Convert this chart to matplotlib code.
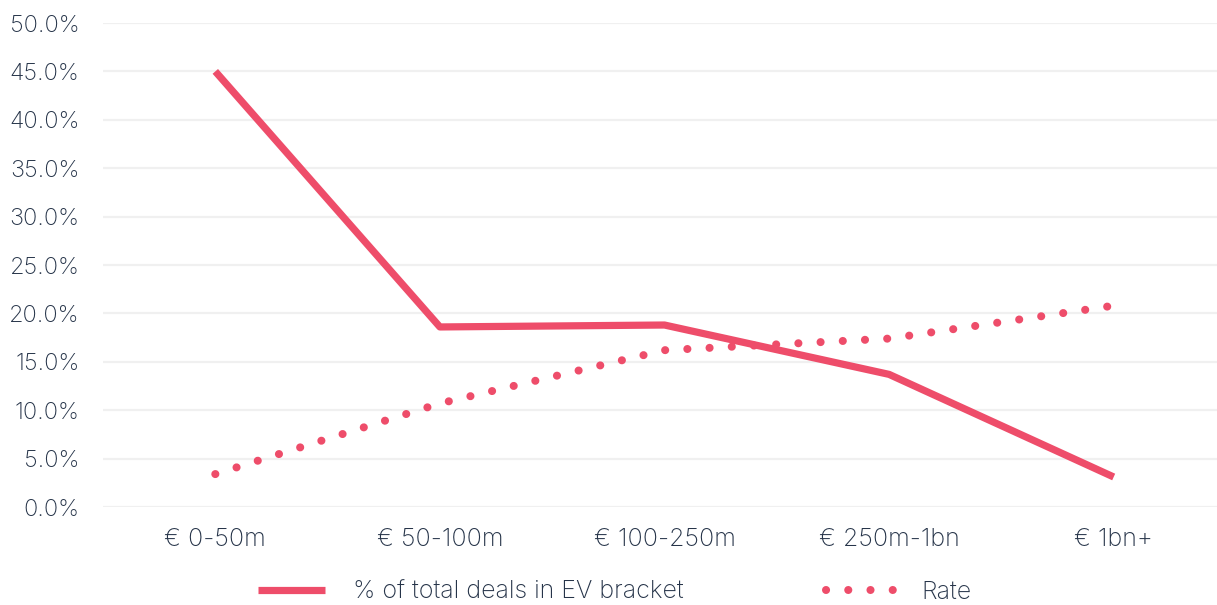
import matplotlib
matplotlib.use("Agg")
import matplotlib.pyplot as plt
from matplotlib.ticker import FuncFormatter

plt.rcParams['font.family'] = ['Inter', 'DejaVu Sans']
plt.rcParams['font.weight'] = 'light'

categories = ['€ 0-50m', '€ 50-100m', '€ 100-250m', '€ 250m-1bn', '€ 1bn+']
share_of_deals = [45.0, 18.6, 18.8, 13.7, 3.1]
rate = [3.4, 10.7, 16.2, 17.4, 20.8]

red = '#ee4d6a'
text_color = '#263449'

fig = plt.figure(figsize=(12.17, 6.05), dpi=100)
ax = fig.add_axes([103 / 1217, 98 / 605, 1 - 103 / 1217, 484 / 605])

x = list(range(len(categories)))
ax.plot(x, share_of_deals, color=red, lw=5.2, solid_capstyle='butt', solid_joinstyle='round',
        label='% of total deals in EV bracket')
ax.plot(x, rate, color=red, lw=5.8, linestyle=(0, (0.01, 2.75)), dash_capstyle='round',
        label='Rate')

ax.set_xlim(-0.5, 4.46)
ax.set_ylim(0, 50)
ax.set_yticks(range(0, 51, 5))
ax.yaxis.set_major_formatter(FuncFormatter(lambda v, p: f'{v:.1f}%'))
ax.set_xticks(x)
ax.set_xticklabels(categories)
ax.grid(axis='y', color='#f0f0f0', lw=1.6)
ax.set_axisbelow(True)
for s in ax.spines.values():
    s.set_visible(False)
ax.tick_params(length=0, colors=text_color)
ax.tick_params(axis='x', labelsize=18, pad=15)
ax.tick_params(axis='y', labelsize=17, pad=17)

leg = fig.legend(loc='lower center', bbox_to_anchor=(0.505, -0.035), ncol=2, frameon=False,
                 fontsize=18, handlelength=2.7, handletextpad=1.1, columnspacing=5.7)
for t in leg.get_texts():
    t.set_color(text_color)

fig.savefig('out.png', dpi=100)
